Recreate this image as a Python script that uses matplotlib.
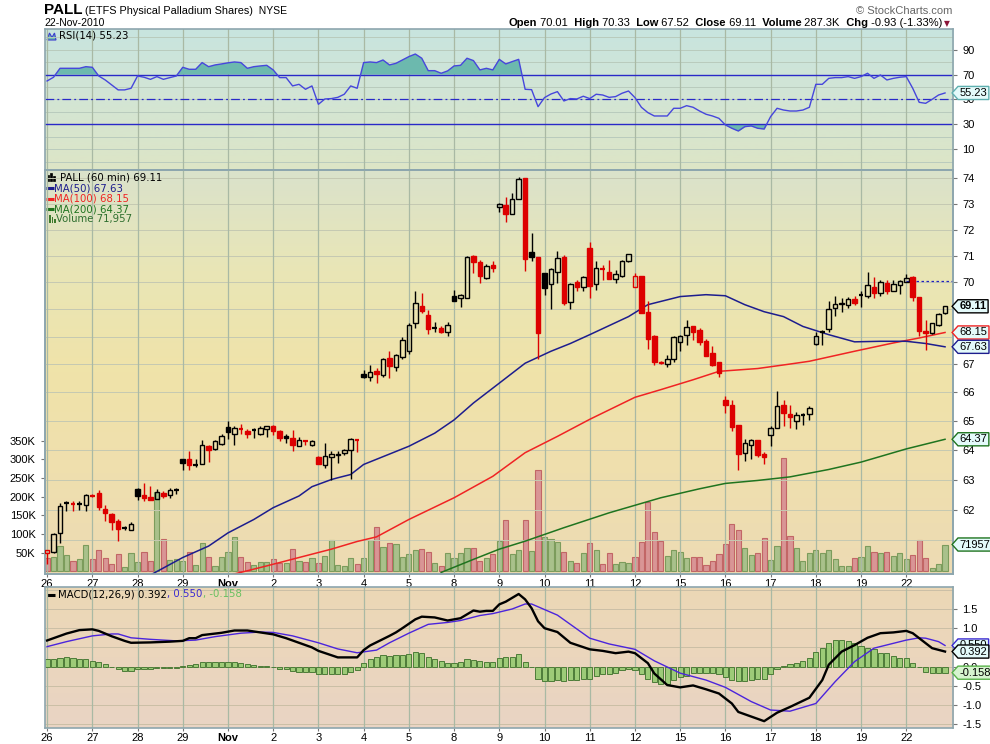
import numpy as np
import matplotlib
matplotlib.use("Agg")
import matplotlib.pyplot as plt
import matplotlib.transforms as mtransforms
from matplotlib.colors import LinearSegmentedColormap
from matplotlib.patches import Rectangle, Polygon
from matplotlib.path import Path
from matplotlib.lines import Line2D
from matplotlib.ticker import NullLocator, NullFormatter

plt.rcParams["font.family"] = ["Liberation Sans", "DejaVu Sans"]

# ---------------- data ----------------
day_labels = ["26", "27", "28", "29", "Nov", "2", "3", "4", "5", "8", "9",
              "10", "11", "12", "15", "16", "17", "18", "19", "22"]
bars_per_day = 7

opens = [60.57, 60.61, 61.23, 62.20, 62.18, 62.18, 62.16, 62.46, 62.55, 62.03,
         61.84, 61.62, 61.38, 61.33, 62.69, 62.47, 62.40, 62.36, 62.55, 62.49,
         62.66, 63.68, 63.68, 63.48, 63.54, 64.13, 64.02, 64.22, 64.79, 64.55,
         64.73, 64.67, 64.68, 64.55, 64.73, 64.84, 64.67, 64.50, 64.42, 64.15,
         64.30, 64.18, 63.75, 63.50, 63.78, 63.82, 63.91, 64.00, 64.34, 66.64,
         66.56, 66.75, 66.63, 67.23, 66.89, 67.25, 67.47, 68.49, 69.13, 68.79,
         68.33, 68.31, 68.18, 69.50, 69.41, 69.43, 71.00, 70.77, 70.16, 70.66,
         72.86, 72.97, 72.60, 73.17, 74.01, 71.15, 70.95, 70.35, 69.93, 70.40,
         70.95, 69.26, 70.02, 69.84, 71.30, 69.93, 70.49, 70.39, 70.12, 70.22,
         70.81, 69.84, 70.22, 68.90, 68.04, 67.03, 67.01, 67.19, 67.81, 68.07,
         68.37, 68.25, 67.85, 67.39, 67.09, 65.72, 65.57, 64.87, 63.91, 64.16,
         64.36, 63.85, 64.51, 64.76, 65.56, 65.26, 65.01, 65.21, 65.25, 67.73,
         68.18, 68.27, 69.06, 69.20, 69.16, 69.38, 69.54, 69.50, 69.82, 69.60,
         69.97, 69.66, 69.90, 70.01, 70.19, 69.46, 68.21, 68.13, 68.43, 68.86]
highs = [60.67, 61.23, 62.22, 62.27, 62.27, 62.27, 62.50, 62.50, 62.66, 62.14,
         61.89, 61.67, 61.45, 61.59, 62.72, 62.89, 62.80, 62.69, 62.61, 62.72,
         62.72, 63.68, 63.96, 63.68, 64.36, 64.16, 64.36, 64.55, 64.99, 64.84,
         64.90, 64.73, 64.76, 64.82, 64.84, 64.88, 64.70, 64.55, 64.70, 64.45,
         64.36, 64.33, 63.81, 64.25, 63.96, 63.96, 64.02, 64.42, 64.39, 66.81,
         66.99, 66.87, 67.23, 67.47, 67.38, 67.98, 68.49, 69.69, 69.59, 68.98,
         68.55, 68.37, 68.54, 69.72, 69.57, 71.00, 71.04, 70.85, 70.69, 70.82,
         73.04, 73.25, 73.43, 74.06, 74.03, 71.87, 70.95, 70.35, 70.53, 71.19,
         71.04, 69.97, 70.10, 70.22, 71.51, 70.82, 70.66, 70.85, 70.47, 70.85,
         71.08, 70.35, 70.22, 69.31, 68.07, 67.12, 67.35, 68.03, 68.07, 68.62,
         68.40, 68.31, 67.91, 67.67, 67.09, 65.89, 65.73, 64.87, 64.39, 64.39,
         64.36, 63.93, 64.82, 66.04, 65.75, 65.57, 65.31, 65.29, 65.53, 68.18,
         68.25, 69.29, 69.50, 69.41, 69.47, 69.50, 69.69, 70.38, 70.19, 70.10,
         70.10, 70.10, 70.10, 70.33, 70.24, 69.46, 68.62, 68.51, 68.86, 69.13]
lows = [60.21, 60.59, 60.91, 61.95, 61.95, 62.00, 61.95, 62.40, 61.98, 61.62,
        61.34, 60.96, 61.34, 61.32, 62.31, 62.28, 62.31, 62.34, 62.38, 62.38,
        62.50, 63.32, 63.32, 63.43, 63.54, 63.59, 63.99, 64.19, 64.39, 64.19,
        64.56, 64.41, 64.42, 64.53, 64.45, 64.53, 64.30, 64.25, 63.96, 64.13,
        64.16, 64.13, 63.52, 63.40, 62.97, 63.57, 63.82, 63.03, 63.93, 66.51,
        66.39, 66.35, 66.54, 66.50, 66.76, 67.19, 67.38, 68.33, 68.86, 68.08,
        68.15, 68.13, 68.04, 69.32, 69.10, 69.41, 70.35, 69.99, 70.13, 70.38,
        72.67, 72.31, 72.60, 73.17, 70.44, 70.82, 67.19, 69.54, 69.00, 69.97,
        69.17, 69.00, 69.66, 69.66, 69.43, 69.72, 70.10, 70.14, 69.99, 70.19,
        70.75, 69.84, 68.86, 67.55, 66.99, 67.02, 66.90, 67.10, 67.47, 67.68,
        67.86, 67.71, 67.29, 66.93, 66.56, 65.29, 64.65, 63.32, 63.62, 63.71,
        63.78, 63.52, 64.13, 64.76, 64.84, 64.76, 64.73, 64.87, 65.04, 67.71,
        67.68, 68.15, 68.77, 68.91, 69.04, 69.16, 69.10, 69.41, 69.41, 69.50,
        69.57, 69.66, 69.57, 70.01, 69.32, 68.01, 67.52, 68.10, 68.40, 68.84]
closes = [60.67, 61.18, 62.11, 62.20, 62.18, 62.18, 62.47, 62.46, 62.09, 61.89,
          61.59, 61.37, 61.38, 61.53, 62.45, 62.38, 62.31, 62.57, 62.45, 62.66,
          62.66, 63.57, 63.48, 63.48, 64.18, 64.00, 64.30, 64.47, 64.61, 64.76,
          64.73, 64.55, 64.68, 64.76, 64.82, 64.65, 64.42, 64.42, 64.18, 64.33,
          64.30, 64.31, 63.54, 63.81, 63.85, 63.88, 63.99, 64.39, 64.34, 66.56,
          66.72, 66.66, 67.19, 66.95, 67.34, 67.89, 68.43, 69.23, 68.95, 68.29,
          68.33, 68.15, 68.42, 69.32, 69.52, 70.95, 70.78, 70.22, 70.63, 70.52,
          72.98, 72.60, 73.17, 73.96, 70.86, 70.97, 68.13, 69.78, 70.51, 70.91,
          69.23, 69.93, 69.84, 70.19, 69.86, 70.53, 70.49, 70.14, 70.31, 70.81,
          71.06, 70.24, 68.88, 67.91, 67.09, 67.07, 67.19, 67.98, 68.03, 68.35,
          68.18, 67.82, 67.29, 66.97, 66.69, 65.56, 64.78, 63.88, 64.25, 64.34,
          63.82, 63.78, 64.76, 65.53, 65.29, 65.15, 65.21, 65.21, 65.46, 68.04,
          68.18, 69.00, 69.19, 69.25, 69.37, 69.25, 69.54, 69.90, 69.60, 70.03,
          69.66, 69.93, 70.04, 70.18, 69.45, 68.22, 68.13, 68.49, 68.84, 69.11]
close_before_first = 60.90
prior_day_close = 70.04

volume_k = [35, 38, 68, 44, 28, 33, 71, 33, 57, 35, 20, 47, 11, 48, 25, 51, 28, 212, 86, 30,
            33, 28, 51, 17, 75, 38, 14, 38, 51, 92, 38, 24, 17, 25, 25, 33, 22, 22, 59, 29,
            25, 35, 22, 41, 83, 17, 14, 35, 20, 35, 84, 118, 64, 75, 73, 39, 46, 57, 59, 51,
            22, 14, 48, 35, 48, 62, 62, 28, 35, 46, 81, 138, 46, 57, 138, 55, 272, 91, 86, 79,
            53, 28, 22, 48, 75, 57, 19, 48, 19, 25, 22, 38, 80, 185, 105, 81, 41, 57, 51, 36,
            38, 38, 17, 28, 46, 73, 127, 110, 62, 44, 48, 89, 30, 67, 304, 95, 62, 28, 48, 57,
            48, 57, 33, 15, 15, 36, 38, 68, 51, 48, 53, 41, 48, 33, 44, 84, 36, 9, 20, 71.957]

ma50_bars = [14, 17, 21, 25, 28, 32, 35, 39, 41, 44, 45, 47, 48, 49, 56, 60, 63, 66, 70,
             74, 78, 81, 84, 90, 93, 98, 102, 105, 108, 111, 114, 117, 121, 125, 129,
             133, 136, 139]
ma50_vals = [59.65, 59.98, 60.43, 60.80, 61.23, 61.67, 62.06, 62.45, 62.76, 63.00, 63.06,
             63.17, 63.34, 63.51, 64.13, 64.58, 65.04, 65.63, 66.33, 67.04, 67.47, 67.75,
             68.07, 68.73, 69.17, 69.47, 69.54, 69.50, 69.17, 68.91, 68.73, 68.37, 68.07,
             67.81, 67.83, 67.83, 67.75, 67.63]
ma100_bars = [28, 34, 39, 44, 48, 51, 56, 63, 69, 74, 79, 84, 91, 95, 100, 104, 110, 115,
              118, 125, 131, 135, 139]
ma100_vals = [59.85, 60.16, 60.43, 60.70, 60.95, 61.10, 61.67, 62.39, 63.11, 63.91, 64.47,
              65.06, 65.83, 66.10, 66.45, 66.75, 66.85, 67.01, 67.11, 67.47, 67.77, 67.95,
              68.15]
ma200_bars = [61, 66, 70, 74, 80, 87, 95, 101, 105, 110, 115, 121, 126, 133, 139]
ma200_vals = [59.95, 60.37, 60.70, 60.96, 61.40, 61.89, 62.39, 62.69, 62.87, 62.97, 63.09,
              63.34, 63.59, 64.04, 64.37]

rsi = [64.9, 67.9, 75.1, 75.1, 75.1, 75.1, 76.4, 75.9, 68.9, 65.7,
       61.7, 57.7, 57.7, 59.0, 68.9, 67.9, 66.2, 68.4, 66.2, 67.6,
       68.9, 75.9, 74.3, 74.3, 79.7, 76.4, 77.8, 78.6, 79.5, 80.2,
       79.7, 75.1, 76.4, 77.0, 77.5, 73.8, 67.6, 67.6, 60.9, 62.2,
       58.2, 60.9, 46.1, 50.4, 50.7, 51.7, 54.2, 60.9, 59.0, 79.7,
       80.2, 79.7, 81.8, 77.8, 79.1, 81.8, 84.5, 86.6, 83.2, 73.2,
       73.2, 71.1, 73.0, 77.0, 77.5, 83.2, 81.3, 73.8, 75.1, 73.8,
       82.3, 78.6, 80.5, 82.3, 58.2, 57.9, 44.2, 51.5, 54.4, 56.3,
       48.8, 50.7, 50.4, 52.6, 50.7, 54.2, 53.6, 51.7, 52.3, 55.0,
       56.8, 51.5, 43.7, 39.4, 36.7, 36.7, 36.7, 42.9, 42.9, 45.0,
       43.7, 40.7, 38.1, 36.7, 34.8, 29.5, 26.8, 24.6, 28.1, 28.7,
       26.8, 26.2, 36.2, 42.9, 41.5, 40.7, 40.7, 41.5, 43.7, 62.2,
       62.2, 67.0, 67.6, 67.6, 68.4, 67.0, 68.4, 71.1, 67.0, 69.7,
       65.7, 67.0, 67.9, 68.4, 59.0, 47.7, 46.9, 50.1, 53.6, 55.23]

macd_bars = [0, 3, 5, 7, 8, 10, 12, 13, 16, 19, 21, 22, 23, 24, 27, 29, 31, 33, 35, 37,
             39, 41, 42, 45, 48, 49, 50, 53, 54, 55, 57, 58, 60, 62, 64, 66, 67, 68, 69,
             70, 71, 73, 74, 75, 76, 77, 79, 81, 84, 86, 88, 90, 91, 93, 94, 96, 98, 100,
             102, 104, 106, 107, 109, 111, 113, 115, 118, 120, 121, 123, 125, 127, 129,
             131, 133, 134, 136, 137, 139]
macd_vals = [0.68, 0.86, 0.95, 0.97, 0.93, 0.79, 0.67, 0.62, 0.63, 0.65, 0.67, 0.74, 0.74,
             0.82, 0.88, 0.94, 0.94, 0.89, 0.84, 0.74, 0.62, 0.50, 0.41, 0.24, 0.24, 0.43,
             0.55, 0.80, 0.89, 1.00, 1.23, 1.30, 1.28, 1.20, 1.26, 1.46, 1.43, 1.45, 1.45,
             1.62, 1.69, 1.89, 1.75, 1.52, 1.18, 1.00, 0.90, 0.62, 0.45, 0.41, 0.35, 0.39,
             0.35, 0.09, -0.18, -0.48, -0.54, -0.49, -0.59, -0.70, -0.96, -1.18, -1.30,
             -1.42, -1.20, -1.05, -0.81, -0.35, 0.05, 0.39, 0.56, 0.75, 0.87, 0.89, 0.93,
             0.87, 0.61, 0.48, 0.392]
signal_bars = [0, 3, 7, 10, 11, 13, 16, 20, 23, 26, 30, 33, 35, 38, 42, 45, 48, 51, 53, 56,
               59, 62, 64, 67, 69, 72, 74, 75, 79, 84, 87, 91, 94, 98, 102, 105, 109, 112,
               115, 119, 122, 125, 128, 133, 135, 136, 138, 139]
signal_vals = [0.52, 0.65, 0.80, 0.85, 0.85, 0.75, 0.71, 0.67, 0.69, 0.78, 0.87, 0.90,
               0.89, 0.80, 0.62, 0.46, 0.36, 0.43, 0.62, 0.87, 1.10, 1.15, 1.20, 1.33, 1.38,
               1.50, 1.63, 1.63, 1.34, 0.74, 0.59, 0.45, 0.15, -0.17, -0.35, -0.54, -0.91,
               -1.13, -1.16, -0.96, -0.39, 0.13, 0.48, 0.69, 0.75, 0.74, 0.65, 0.55]
macd_hist = [0.19, 0.19, 0.22, 0.24, 0.22, 0.19, 0.19, 0.15, 0.11, 0.06,
             0.00, -0.06, -0.11, -0.11, -0.06, -0.05, -0.05, -0.03, -0.03, -0.03,
             -0.03, 0.02, 0.05, 0.07, 0.11, 0.11, 0.11, 0.11, 0.11, 0.11,
             0.09, 0.06, 0.03, 0.02, 0.01, -0.02, -0.06, -0.07, -0.11, -0.13,
             -0.13, -0.15, -0.20, -0.19, -0.19, -0.19, -0.18, -0.13, -0.09, 0.09,
             0.19, 0.24, 0.30, 0.28, 0.30, 0.30, 0.33, 0.37, 0.35, 0.24,
             0.19, 0.15, 0.09, 0.09, 0.13, 0.20, 0.17, 0.15, 0.13, 0.12,
             0.22, 0.24, 0.26, 0.32, 0.11, -0.02, -0.31, -0.37, -0.37, -0.35,
             -0.37, -0.35, -0.35, -0.33, -0.31, -0.24, -0.19, -0.18, -0.16, -0.09,
             -0.07, -0.09, -0.18, -0.31, -0.41, -0.46, -0.44, -0.35, -0.26, -0.24,
             -0.16, -0.16, -0.16, -0.16, -0.19, -0.26, -0.35, -0.37, -0.37, -0.35,
             -0.33, -0.31, -0.18, -0.07, 0.02, 0.07, 0.10, 0.15, 0.22, 0.39,
             0.49, 0.62, 0.68, 0.69, 0.67, 0.61, 0.54, 0.48, 0.45, 0.36,
             0.35, 0.28, 0.23, 0.22, 0.10, -0.02, -0.13, -0.16, -0.16, -0.158]

price_grid = [61, 62, 63, 64, 65, 66, 67, 68, 69, 70, 71, 72, 73, 74]
price_ticks = [62, 63, 64, 65, 66, 67, 70, 71, 72, 73, 74]
volume_ticks = [50, 100, 150, 200, 250, 300, 350]
rsi_ticks = [10, 30, 50, 70, 90]
macd_ticks = [-1.5, -1.0, -0.5, 0.0, 1.0, 1.5]

# ---------------- layout helpers ----------------
W, H = 990, 744
fig = plt.figure(figsize=(W / 100, H / 100), dpi=100)
fig.patch.set_facecolor("white")


def fx(px):
    return px / W


def fy(py):
    return 1 - py / H


LEFT, RIGHT = 44.7, 953.3


def panel_rect(top, bottom):
    return [fx(LEFT), fy(bottom), (RIGHT - LEFT) / W, (bottom - top) / H]


def background(rect, colors):
    bg = fig.add_axes(rect, zorder=0)
    cmap = LinearSegmentedColormap.from_list("bg", colors)
    bg.imshow(np.linspace(0, 1, 256).reshape(-1, 1), cmap=cmap, aspect="auto",
              extent=[0, 1, 0, 1], origin="upper")
    bg.set_axis_off()


SPINE = "#8da6ae"
VGRID = "#a9b9a4"
TICKFONT = dict(fontsize=8, family="Liberation Sans")


def style_panel(ax):
    ax.patch.set_visible(False)
    for s in ax.spines.values():
        s.set_color(SPINE)
        s.set_linewidth(1.2)
    ax.tick_params(colors="#777777", labelcolor="black", length=3, width=0.8, labelsize=8)


def tag_shape(x0, y0, width, height, mutation_size):
    pad = 0.14 * mutation_size
    x0, y0 = x0 - pad, y0 - pad
    w, h = width + 2 * pad, height + 2 * pad
    tip = 0.45 * h
    verts = [(x0 - tip, y0 + h / 2), (x0, y0), (x0 + w, y0), (x0 + w, y0 + h),
             (x0, y0 + h), (x0 - tip, y0 + h / 2), (x0 - tip, y0 + h / 2)]
    return Path(verts, closed=True)


def add_tag(ax, y, text, ec, fc="#e4fafa", bold=False, trans_y=None):
    trans = mtransforms.blended_transform_factory(ax.transAxes,
                                                  trans_y if trans_y is not None else ax.transData)
    ax.annotate(text, xy=(1, y), xycoords=trans, xytext=(4.5, 0),
                textcoords="offset points", va="center", ha="left",
                fontsize=8, family="Liberation Sans",
                fontweight="bold" if bold else "normal", annotation_clip=False,
                bbox=dict(boxstyle=tag_shape, fc=fc, ec=ec, lw=1.0), zorder=10)


def text_runs(x_px, y_px, runs, align="left"):
    renderer = fig.canvas.get_renderer()
    arts = [fig.text(0, fy(y_px), s, va="center", ha="left", **kw) for s, kw in runs]
    widths = [a.get_window_extent(renderer).width for a in arts]
    cur = x_px - sum(widths) if align == "right" else x_px
    for a, w in zip(arts, widths):
        a.set_x(fx(cur))
        cur += w


def hline_icon(x0, x1, y, color, lw=2.2):
    fig.add_artist(Line2D([fx(x0), fx(x1)], [fy(y), fy(y)], transform=fig.transFigure,
                          color=color, lw=lw, solid_capstyle="butt"))


n_bars = len(closes)
x = np.arange(n_bars)
day_starts = np.arange(len(day_labels)) * bars_per_day
xlim = (-0.37, n_bars + 0.28)

opens_a = np.array(opens)
highs_a = np.array(highs)
lows_a = np.array(lows)
closes_a = np.array(closes)
prev_close = np.concatenate([[close_before_first], closes_a[:-1]])
up_bar = closes_a >= prev_close

# ---------------- RSI panel ----------------
rsi_rect = panel_rect(29.3, 170)
background(rsi_rect, ["#c8e4df", "#d3e5d4", "#dde5c6"])
ax_rsi = fig.add_axes(rsi_rect, zorder=2)
style_panel(ax_rsi)
rsi_a = np.array(rsi)
for v in range(0, 101, 10):
    ax_rsi.axhline(v, color="#b9cbbd", lw=0.7, zorder=0.5)
for d in day_starts:
    ax_rsi.axvline(d, color=VGRID, lw=0.9, zorder=0.6)
ax_rsi.fill_between(x, rsi_a, 70, where=rsi_a >= 70, interpolate=True, color="#6cb9ae", lw=0)
ax_rsi.fill_between(x, rsi_a, 30, where=rsi_a <= 30, interpolate=True, color="#6cb9ae", lw=0)
ax_rsi.axhline(70, color="#2929c8", lw=1.0)
ax_rsi.axhline(30, color="#2929c8", lw=1.0)
ax_rsi.axhline(50, color="#2929c8", lw=0.9, dashes=(7, 2.5, 1.5, 2.5))
ax_rsi.plot(x, rsi_a, color="#4646dc", lw=1.0)
ax_rsi.set_xlim(*xlim)
ax_rsi.set_ylim(-6.8, 106.5)
ax_rsi.set_xticks([])
ax_rsi.yaxis.tick_right()
ax_rsi.set_yticks(rsi_ticks, labels=[str(t) for t in rsi_ticks], **TICKFONT)
add_tag(ax_rsi, rsi[-1], f"{rsi[-1]:.2f}", ec="#5fb0b0")

# ---------------- price / volume panel ----------------
main_rect = panel_rect(170, 574)
background(main_rect, ["#dae2cb", "#e9e6b6", "#f0e3a9", "#efdfae", "#eddbb4"])
ax = fig.add_axes(main_rect)
ax_vol = ax.twinx()
ax_vol.set_zorder(1)
ax.set_zorder(2)
style_panel(ax)
style_panel(ax_vol)

vol_fill = np.where(up_bar, "#a9c18b", "#d99595")
vol_edge = np.where(up_bar, "#7c9c5c", "#c26666")
ax_vol.bar(x, volume_k, width=0.8, color=vol_fill, edgecolor=vol_edge, lw=0.8)
ax_vol.set_ylim(-7, 1075)
ax_vol.yaxis.tick_left()
ax_vol.set_yticks(volume_ticks, labels=[f"{v}K" for v in volume_ticks], **TICKFONT)

ax.set_yscale("log")
ax.set_ylim(59.9, 74.33)
ax.set_xlim(*xlim)
for p in price_grid:
    ax.axhline(p, color="#c5c9b2", lw=0.7, zorder=0.5)
for d in day_starts:
    ax.axvline(d, color=VGRID, lw=0.9, zorder=0.6)

ax.plot(ma200_bars, ma200_vals, color="#1f741f", lw=1.1, zorder=2)
ax.plot(ma100_bars, ma100_vals, color="#f02323", lw=1.1, zorder=2)
ax.plot(ma50_bars, ma50_vals, color="#1d1d8e", lw=1.1, zorder=2)
ax.hlines(prior_day_close, day_starts[-1], xlim[1], color="#2020c0", lw=0.9,
          linestyles=(0, (2, 2)), zorder=2)

body_w = 0.7
for i in range(n_bars):
    col = "black" if up_bar[i] else "#dd0000"
    o, h, l, c = opens_a[i], highs_a[i], lows_a[i], closes_a[i]
    top, bot = max(o, c), min(o, c)
    ax.vlines(i, top, h, color=col, lw=1.0, zorder=3)
    ax.vlines(i, l, bot, color=col, lw=1.0, zorder=3)
    if o == c:
        ax.hlines(c, i - body_w / 2, i + body_w / 2, color=col, lw=1.6, zorder=3)
    else:
        ax.add_patch(Rectangle((i - body_w / 2, bot), body_w, top - bot,
                               facecolor=col if c < o else "none", edgecolor=col,
                               lw=1.0, zorder=3))

ax.yaxis.tick_right()
ax.set_yticks(price_ticks, labels=[str(p) for p in price_ticks], **TICKFONT)
ax.yaxis.set_minor_locator(NullLocator())
ax.yaxis.set_minor_formatter(NullFormatter())
ax.set_xticks(day_starts, labels=day_labels, **TICKFONT)
ax.tick_params(axis="x", length=2, pad=1.5)
ax.get_xticklabels()[4].set_fontweight("bold")

add_tag(ax, closes[-1], f"{closes[-1]:.2f}", ec="black", bold=True)
add_tag(ax, ma100_vals[-1], f"{ma100_vals[-1]:.2f}", ec="#f02323")
add_tag(ax, ma50_vals[-1], f"{ma50_vals[-1]:.2f}", ec="#1d1d8e")
add_tag(ax, ma200_vals[-1], f"{ma200_vals[-1]:.2f}", ec="#1f741f")
add_tag(ax, volume_k[-1], f"{round(volume_k[-1] * 1000)}", ec="#1f741f",
        trans_y=ax_vol.transData)

# ---------------- MACD panel ----------------
macd_rect = panel_rect(586.7, 727.7)
background(macd_rect, ["#ecd8b5", "#ebd6bd", "#e9d4c4"])
ax_m = fig.add_axes(macd_rect, zorder=2)
style_panel(ax_m)
for v in np.arange(-1.5, 2.01, 0.5):
    ax_m.axhline(v, color="#cbbfa6", lw=0.7, zorder=0.5)
for d in day_starts:
    ax_m.axvline(d, color=VGRID, lw=0.9, zorder=0.6)
ax_m.bar(x, macd_hist, width=0.8, color="#9dcb78", edgecolor="#4d7c38", lw=0.7, zorder=1)
ax_m.plot(signal_bars, signal_vals, color="#4b24dc", lw=1.0, zorder=2)
ax_m.plot(macd_bars, macd_vals, color="black", lw=1.7, zorder=3)
ax_m.set_xlim(*xlim)
ax_m.set_ylim(-1.59, 2.08)
ax_m.yaxis.tick_right()
ax_m.set_yticks(macd_ticks, labels=[f"{t:.1f}" for t in macd_ticks], **TICKFONT)
ax_m.set_xticks(day_starts, labels=day_labels, **TICKFONT)
ax_m.tick_params(axis="x", length=2, pad=1.5)
ax_m.get_xticklabels()[4].set_fontweight("bold")
add_tag(ax_m, signal_vals[-1], f"{signal_vals[-1]:.3f}", ec="#3a2ad0")
add_tag(ax_m, macd_vals[-1], f"{macd_vals[-1]:.3f}", ec="black")
add_tag(ax_m, macd_hist[-1], f"{macd_hist[-1]:.3f}", ec="#59b24a", fc="#d6f4cf")

# ---------------- header ----------------
hdr = dict(family="Liberation Sans", fontsize=8)
hdr_b = dict(family="Liberation Sans", fontsize=8, fontweight="bold")
text_runs(44, 10.5, [("PALL", dict(family="Liberation Sans", fontsize=11, fontweight="bold")),
                     (" (ETFS Physical Palladium Shares)", dict(family="Liberation Sans", fontsize=7.8)),
                     ("  NYSE", dict(family="Liberation Sans", fontsize=7.5))])
fig.text(fx(44), fy(23.5), "22-Nov-2010", va="center", ha="left", family="Liberation Sans",
         fontsize=7.5)
fig.text(fx(952), fy(10.5), "\u00a9 StockCharts.com", va="center", ha="right",
         family="Liberation Sans", fontsize=8, color="#666666")
chg = closes[-1] - prior_day_close
text_runs(942, 23.5, [("Open", hdr_b), (f" {opens[-7]:.2f}", hdr),
                      ("  High", hdr_b), (" 70.33", hdr),
                      ("  Low", hdr_b), (" 67.52", hdr),
                      ("  Close", hdr_b), (f" {closes[-1]:.2f}", hdr),
                      ("  Volume", hdr_b), (" 287.3K", hdr),
                      ("  Chg", hdr_b), (f" {chg:.2f} ({chg / prior_day_close * 100:.2f}%)", hdr)],
          align="right")
fig.text(fx(944), fy(24), "\u25bc", va="center", ha="left", family="DejaVu Sans",
         fontsize=5.5, color="#8b1538")

# ---------------- panel legends ----------------
leg = dict(family="DejaVu Sans", fontsize=7.3)
fig.add_artist(Polygon([(fx(47), fy(40)), (fx(49.5), fy(33)), (fx(52), fy(37.5)),
                        (fx(54.5), fy(33)), (fx(56), fy(40))], closed=True,
                       transform=fig.transFigure, fc="#6cb9ae", ec="#3b3bd0", lw=0.8))
fig.text(fx(59), fy(36), f"RSI(14) {rsi[-1]:.2f}", va="center", ha="left", **leg)

for bx0, bh in [(46.5, 6), (49.5, 8), (52.5, 5)]:
    fig.add_artist(Rectangle((fx(bx0), fy(181)), fx(2), bh / H, transform=fig.transFigure,
                             fc="black", ec="black", lw=0.5))
fig.text(fx(59.5), fy(177.7), f"PALL (60 min) {closes[-1]:.2f}", va="center", ha="left", **leg)
legend_rows = [(188.3, "#1d1d8e", f"MA(50) {ma50_vals[-1]:.2f}"),
               (198.7, "#f02323", f"MA(100) {ma100_vals[-1]:.2f}"),
               (209.3, "#1f741f", f"MA(200) {ma200_vals[-1]:.2f}")]
for yy, col, txt in legend_rows:
    hline_icon(46, 53.5, yy, col)
    fig.text(fx(54.5), fy(yy), txt, va="center", ha="left", color=col, **leg)
for bx0, bh in [(46.5, 5), (49, 8), (51.5, 6), (54, 4)]:
    fig.add_artist(Rectangle((fx(bx0), fy(223)), fx(1.8), bh / H, transform=fig.transFigure,
                             fc="#3c7a2c", ec="none"))
fig.text(fx(56), fy(219.3), f"Volume {round(volume_k[-1] * 1000):,}", va="center", ha="left",
         color="#2e6e2e", **leg)

hline_icon(47, 55, 594.5, "black")
text_runs(58.5, 594.5, [(f"MACD(12,26,9) {macd_vals[-1]:.3f}", dict(color="black", **leg)),
                        (f", {signal_vals[-1]:.3f}", dict(color="#3a2ad0", **leg)),
                        (f", {macd_hist[-1]:.3f}", dict(color="#66c060", **leg))])

fig.savefig("out.png", dpi=100, facecolor="white")
